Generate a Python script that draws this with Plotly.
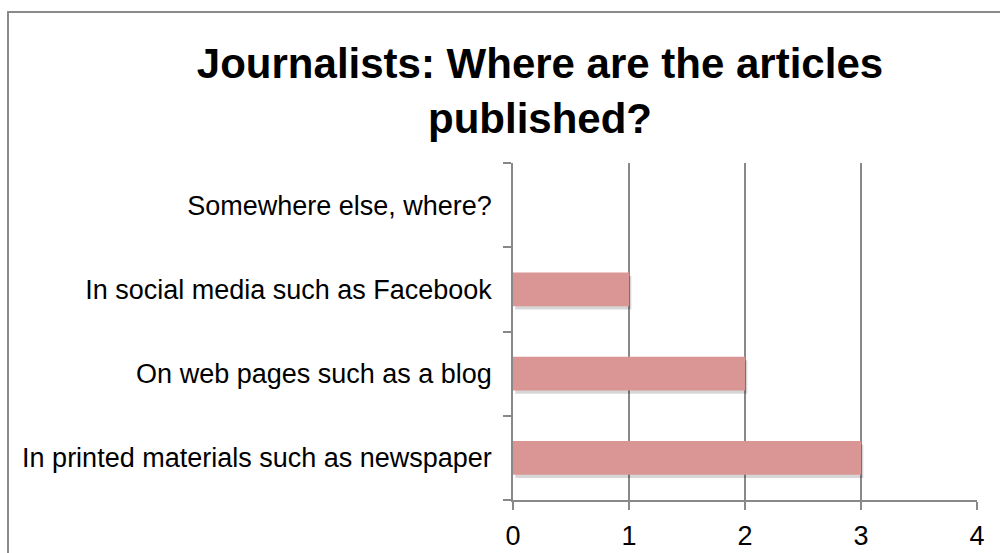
import plotly.graph_objects as go

categories = [
    "In printed materials such as newspaper",
    "On web pages such as a blog",
    "In social media such as Facebook",
    "Somewhere else, where?",
]
values = [3, 2, 1, 0]
x_ticks = [0, 1, 2, 3, 4]

title_text = "Journalists: Where are the articles<br>published?"

W, H = 1000, 553
L, R, T, B = 513, 23, 163, 53
pw, ph = W - L - R, H - T - B

line_col = "#888888"
bar_col = "#D99694"
font_family = "Liberation Sans, Arial, sans-serif"

fig = go.Figure()

# soft shadow behind bars
fig.add_trace(go.Bar(
    y=categories, x=values, orientation="h",
    marker=dict(color="rgba(0,0,0,0.16)", line=dict(width=0)),
    width=0.4, offset=-0.24, base=0.02,
    hoverinfo="skip", showlegend=False,
))
fig.add_trace(go.Bar(
    y=categories, x=values, orientation="h",
    marker=dict(color=bar_col, line=dict(width=0)),
    width=0.4, offset=-0.2,
    showlegend=False,
))

def px(xp):
    return (xp - L) / pw

def py(yp):
    return (H - B - yp) / ph

fig.add_shape(type="rect", xref="paper", yref="paper",
              x0=px(8), x1=px(1010), y0=py(565), y1=py(12),
              line=dict(color="#8a8a8a", width=2), layer="below")

fig.update_layout(
    width=W, height=H,
    margin=dict(l=L, r=R, t=T, b=B, autoexpand=False),
    paper_bgcolor="white", plot_bgcolor="white",
    barmode="overlay",
    font=dict(family=font_family, color="black"),
    title=dict(text="<b>" + title_text + "</b>",
               font=dict(size=42, family=font_family, color="black"),
               x=540 / W, xanchor="center",
               y=1 - 78 / H, yanchor="top"),
    xaxis=dict(range=[0, 4], tickvals=x_ticks, ticktext=[str(v) for v in x_ticks],
               showgrid=True, gridcolor=line_col, gridwidth=1.5,
               zeroline=False, showline=True, linecolor=line_col, linewidth=1.5,
               ticks="outside", ticklen=8, tickcolor=line_col, tickwidth=1.5,
               ticklabelstandoff=3, automargin=False,
               tickfont=dict(size=27), fixedrange=True),
    yaxis=dict(categoryorder="array", categoryarray=categories,
               showgrid=False, zeroline=False,
               showline=True, linecolor=line_col, linewidth=1.5,
               ticks="outside", tickson="boundaries", ticklen=8,
               tickcolor=line_col, tickwidth=1.5,
               ticklabelstandoff=14, automargin=False,
               tickfont=dict(size=27), fixedrange=True),
)

fig.write_html("out.html")
